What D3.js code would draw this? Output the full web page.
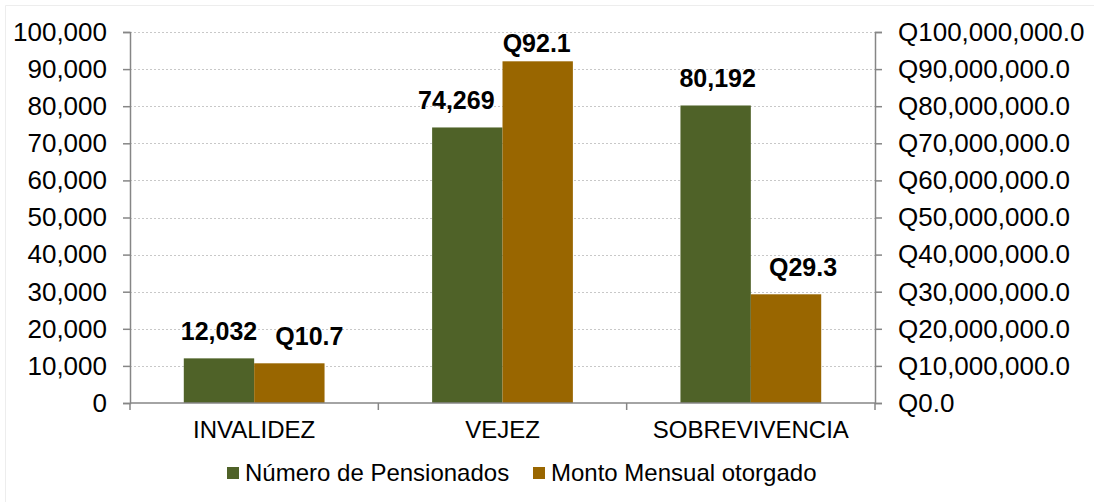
<!DOCTYPE html>
<html>
<head>
<meta charset="utf-8">
<script src="https://cdn.jsdelivr.net/npm/d3@7"></script>
<style>
  body { margin: 0; background: #fff; }
  svg { display: block; font-family: "Liberation Sans", Arial, sans-serif; }
</style>
</head>
<body>
<svg width="1094" height="502"></svg>
<script>
var categories = ["INVALIDEZ", "VEJEZ", "SOBREVIVENCIA"];
var pensionados = [12032, 74269, 80192];
var monto = [10700000, 92100000, 29300000];
var seriesNames = ["Número de Pensionados", "Monto Mensual otorgado"];
var leftTicks = [0, 10000, 20000, 30000, 40000, 50000, 60000, 70000, 80000, 90000, 100000];
var rightTicks = [0, 10000000, 20000000, 30000000, 40000000, 50000000, 60000000, 70000000, 80000000, 90000000, 100000000];

var colors = ["#4f6228", "#996600"];

var svg = d3.select("svg"),
    width = +svg.attr("width"),
    height = +svg.attr("height");

var plotLeft = 130, plotRight = 875, plotTop = 32, plotBottom = 403;

// faint frame on top/left edges
svg.append("line").attr("x1", 5.5).attr("x2", width).attr("y1", 5.5).attr("y2", 5.5)
    .attr("stroke", "#ededed");
svg.append("line").attr("x1", 5.5).attr("x2", 5.5).attr("y1", 5.5).attr("y2", height)
    .attr("stroke", "#ededed");

var x = d3.scaleBand().domain(categories).range([plotLeft, plotRight]).padding(0);
var x1 = d3.scaleBand().domain([0, 1])
    .range([x.bandwidth() * 0.2166, x.bandwidth() * 0.7834]).padding(0);

var yL = d3.scaleLinear().domain([0, 100000]).range([plotBottom, plotTop]);
var yR = d3.scaleLinear().domain([0, 100000000]).range([plotBottom, plotTop]);

// gridlines
svg.append("g")
    .selectAll("line")
    .data(leftTicks.slice(1))
    .enter().append("line")
    .attr("x1", plotLeft).attr("x2", plotRight)
    .attr("y1", function(d) { return Math.round(yL(d)) + 0.5; })
    .attr("y2", function(d) { return Math.round(yL(d)) + 0.5; })
    .attr("stroke", "#c8c8c8")
    .attr("stroke-dasharray", "2,2");

// bars
var rows = categories.map(function(c, i) { return { cat: c, ci: i, vals: [pensionados[i], monto[i]] }; });

var groups = svg.append("g").selectAll("g")
    .data(rows)
    .enter().append("g")
    .attr("transform", function(d) { return "translate(" + x(d.cat) + ",0)"; });

function yFor(i) { return i === 0 ? yL : yR; }

groups.selectAll("rect")
    .data(function(d) { return d.vals.map(function(v, i) { return { v: v, i: i }; }); })
    .enter().append("rect")
    .attr("x", function(d) { return x1(d.i); })
    .attr("width", x1.bandwidth())
    .attr("y", function(d) { return yFor(d.i)(d.v); })
    .attr("height", function(d) { return plotBottom - yFor(d.i)(d.v); })
    .attr("fill", function(d) { return colors[d.i]; });

// data labels (some were dragged sideways by hand in the original)
var nudge = [[0, 20], [-11, -1], [2, 17]];
var fmtN = d3.format(",");
groups.selectAll("text.lbl")
    .data(function(d) { return d.vals.map(function(v, i) { return { v: v, i: i, ci: d.ci }; }); })
    .enter().append("text")
    .attr("class", "lbl")
    .attr("x", function(d) { return x1(d.i) + x1.bandwidth() / 2 + nudge[d.ci][d.i]; })
    .attr("y", function(d) { return Math.max(yFor(d.i)(d.v) - 18, plotTop + 20); })
    .attr("text-anchor", "middle")
    .attr("font-weight", "bold")
    .attr("font-size", "25px")
    .attr("fill", "#000")
    .text(function(d) { return d.i === 0 ? fmtN(d.v) : "Q" + (d.v / 1e6).toFixed(1); });

// left axis
var axL = svg.append("g")
    .attr("transform", "translate(" + plotLeft + ",0)")
    .call(d3.axisLeft(yL).tickValues(leftTicks).tickFormat(d3.format(",")).tickSize(7).tickPadding(16));
// right axis
var fmtQ = function(d) { return "Q" + d3.format(",.1f")(d); };
var axR = svg.append("g")
    .attr("transform", "translate(" + plotRight + ",0)")
    .call(d3.axisRight(yR).tickValues(rightTicks).tickFormat(fmtQ).tickSize(7).tickPadding(16));

[axL, axR].forEach(function(ax) {
  ax.select(".domain").attr("stroke", "#868686").attr("stroke-width", 1.5);
  ax.selectAll(".tick line").attr("stroke", "#868686").attr("stroke-width", 1.5);
  ax.selectAll("text").attr("font-size", "26px").attr("fill", "#000")
      .attr("font-family", "Liberation Sans, Arial, sans-serif");
});

// bottom axis
svg.append("line").attr("x1", plotLeft).attr("x2", plotRight).attr("y1", plotBottom).attr("y2", plotBottom)
    .attr("stroke", "#868686").attr("stroke-width", 1.5);
svg.append("g").selectAll("line")
    .data(categories.concat(["__end"]))
    .enter().append("line")
    .attr("x1", function(d) { return d === "__end" ? plotRight : x(d); })
    .attr("x2", function(d) { return d === "__end" ? plotRight : x(d); })
    .attr("y1", plotBottom).attr("y2", plotBottom + 7)
    .attr("stroke", "#868686").attr("stroke-width", 1.5);

svg.append("g").selectAll("text")
    .data(categories)
    .enter().append("text")
    .attr("x", function(d) { return x(d) + x.bandwidth() / 2; })
    .attr("y", 438)
    .attr("text-anchor", "middle")
    .attr("font-size", "24px")
    .attr("fill", "#000")
    .text(function(d) { return d; });

// legend
var legendX = [227, 533];
var leg = svg.append("g").selectAll("g")
    .data(seriesNames)
    .enter().append("g")
    .attr("transform", function(d, i) { return "translate(" + legendX[i] + ",467)"; });
leg.append("rect").attr("width", 12).attr("height", 12)
    .attr("fill", function(d, i) { return colors[i]; });
leg.append("text").attr("x", 18).attr("y", 14)
    .attr("font-size", "24px").attr("fill", "#000")
    .text(function(d) { return d; });
</script>
</body>
</html>
